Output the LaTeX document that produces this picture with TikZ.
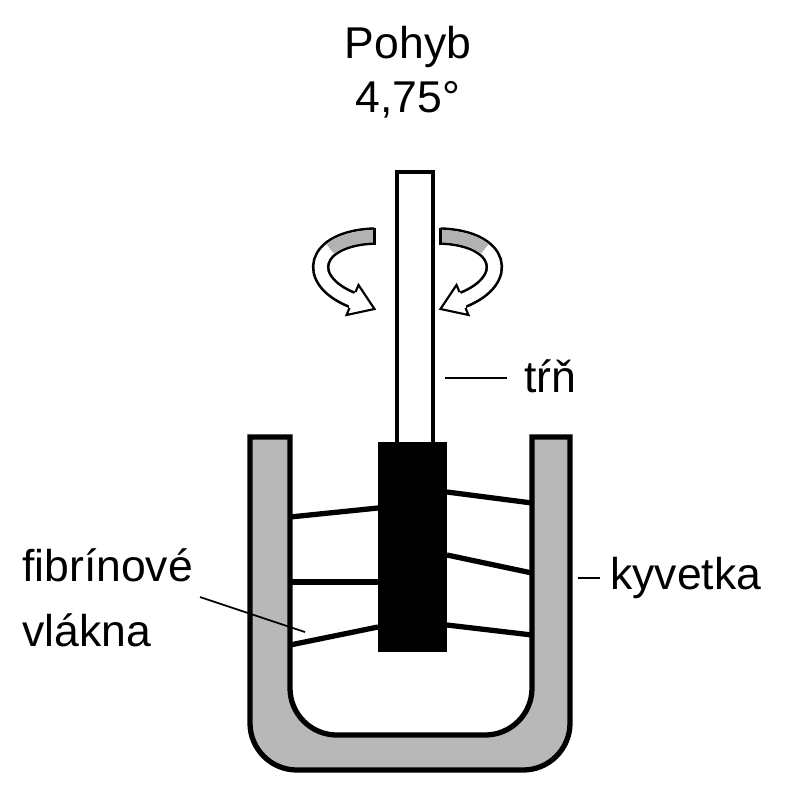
\documentclass[tikz,border=0pt]{standalone}
\usepackage{fontspec}
\setmainfont{Liberation Sans}
\begin{document}
\begin{tikzpicture}[x=0.03cm,y=-0.03cm,
  lbl/.style={font=\fontsize{38}{44}\selectfont, inner sep=0pt},
  fiber/.style={line width=4.5pt},
  leader/.style={line width=1.5pt}]
\useasboundingbox (0,0) rectangle (805,800);
% cuvette
\draw[fill=black!28, line width=4.5pt, rounded corners=40]
  (250,437) -- (250,770) -- (570,770) [sharp corners] -- (570,437) -- (532,437)
  [rounded corners=40] -- (532,735) -- (290,735) [sharp corners] -- (290,437) -- cycle;
% stem and block
\draw[line width=4pt, fill=white] (397,172) rectangle (433,444);
\fill (378,442) rectangle (447,652);
% fibers
\draw[fiber] (290,517) -- (378,508);
\draw[fiber] (290,582) -- (378,582);
\draw[fiber] (290,645) -- (378,627);
\draw[fiber] (447,492) -- (532,503);
\draw[fiber] (447,555) -- (532,573);
\draw[fiber] (447,625) -- (532,635);
% rotation arrows
\foreach \s in {1,-1}{
  \begin{scope}[shift={(407.5,0)}, xscale=\s]
    \draw[line width=15pt, line cap=butt] (-33,236) .. controls (-95,238) and (-105,280) .. (-55,300);
    \draw[line width=10.5pt, white, line cap=butt] (-33,236) .. controls (-95,238) and (-105,280) .. (-55,300);
    \draw[line width=10.5pt, black!30, line cap=butt, dash pattern=on 40pt off 600pt] (-33,236) .. controls (-95,238) and (-105,280) .. (-55,300);
    \fill[white] (-52,292) -- (-49,285) -- (-33,309) -- (-61,315) -- (-58,308) -- (-60,300) -- cycle;
    \draw[line width=1.8pt, line join=miter] (-52,292) -- (-49,285) -- (-33,309) -- (-61,315) -- (-58,308);
    \draw[line width=1.8pt] (-33,228) -- (-33,245);
  \end{scope}}
% labels
\node[lbl] (pohyb) at (408,47) {Pohyb};
\node[lbl] (deg) at (408,100) {4,75°};
\node[lbl, anchor=west] (trn) at (524,376) {tŕň};
\coordinate (trnp) at (445,378);
\draw[leader] (trnp) -- ++(62,0);
\node[lbl, anchor=west] (kyv) at (610,578) {kyvetka};
\coordinate (kyvp) at (578,578);
\draw[leader] (kyvp) -- ++(22,0);
\node[lbl, anchor=west] (fib) at (22,565) {fibrínové};
\node[lbl, anchor=west] (vla) at (22,630) {vlákna};
\coordinate (fibp) at (305,632);
\draw[leader] (200,597) -- (fibp);
\end{tikzpicture}
\end{document}
